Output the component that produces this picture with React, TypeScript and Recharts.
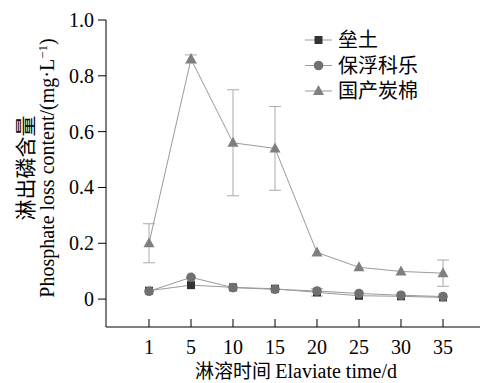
import { LineChart, Line, XAxis, YAxis, ErrorBar, Label } from 'recharts';

const days = ['1', '5', '10', '15', '20', '25', '30', '35'];
const leituValues = [0.03, 0.05, 0.042, 0.037, 0.024, 0.012, 0.01, 0.006];
const leituErrors = [0, 0, 0, 0, 0.013, 0, 0, 0];
const baofuValues = [0.028, 0.078, 0.041, 0.035, 0.029, 0.02, 0.014, 0.009];
const baofuErrors = [0, 0, 0, 0, 0, 0, 0, 0];
const tanmianValues = [0.2, 0.86, 0.56, 0.54, 0.167, 0.114, 0.099, 0.093];
const tanmianErrors = [0.07, 0.015, 0.19, 0.15, 0, 0, 0, 0.047];
const yTicks = [0, 0.2, 0.4, 0.6, 0.8, 1.0];

const seriesNames = ['垒土', '保浮科乐', '国产炭棉'];

const data = days.map((d, i) => ({
  day: d,
  leitu: leituValues[i],
  leituErr: leituErrors[i],
  baofu: baofuValues[i],
  baofuErr: baofuErrors[i],
  tanmian: tanmianValues[i],
  tanmianErr: tanmianErrors[i],
}));

const FONT = 'Liberation Serif';
const CJK = 'Noto Sans CJK SC';
const LINE = '#9a9a9a';

function Marker({ shape, cx, cy }: { shape: string; cx: number; cy: number }) {
  if (shape === 'square') {
    return <rect x={cx - 4} y={cy - 4} width={8} height={8} fill="#333333" />;
  }
  if (shape === 'circle') {
    return <circle cx={cx} cy={cy} r={4.8} fill="#707070" />;
  }
  return <polygon points={`${cx},${cy - 6} ${cx - 5.5},${cy + 4} ${cx + 5.5},${cy + 4}`} fill="#7f7f7f" />;
}

const shapes = ['square', 'circle', 'triangle'];

function dotFor(shape: string) {
  return (props: any) => (
    <Marker key={`${shape}-${props.index}`} shape={shape} cx={props.cx} cy={props.cy} />
  );
}

function XTick(props: any) {
  const { x, y, payload } = props;
  return (
    <g>
      <line x1={x} y1={y - 8} x2={x} y2={y} stroke="#000" strokeWidth={1} />
      <text x={x} y={y + 27} textAnchor="middle" style={{ fontFamily: FONT, fontSize: 20 }} fill="#000">
        {payload.value}
      </text>
    </g>
  );
}

function YTick(props: any) {
  const { x, y, payload } = props;
  const v = payload.value as number;
  return (
    <text x={x} y={y + 7} textAnchor="end" style={{ fontFamily: FONT, fontSize: 20 }} fill="#000">
      {v === 0 ? '0' : v.toFixed(1)}
    </text>
  );
}

function YLabel() {
  return (
    <g>
      <text
        transform="translate(33,168) rotate(-90)"
        textAnchor="middle"
        style={{ fontFamily: CJK, fontSize: 21 }}
        fill="#000"
      >
        淋出磷含量
      </text>
      <text
        transform="translate(54,168) rotate(-90)"
        textAnchor="middle"
        style={{ fontFamily: FONT, fontSize: 20 }}
        fill="#000"
      >
        Phosphate loss content/(mg·L
        <tspan fontSize={13} dy={-7}>−1</tspan>
        <tspan dy={7}>)</tspan>
      </text>
    </g>
  );
}

function XLabel() {
  return (
    <text x={296} y={378} textAnchor="middle" fill="#000">
      <tspan style={{ fontFamily: CJK, fontSize: 19 }}>淋溶时间 </tspan>
      <tspan style={{ fontFamily: FONT, fontSize: 20 }}>Elaviate time/d</tspan>
    </text>
  );
}

function LegendBox() {
  return (
    <svg width={150} height={90} style={{ position: 'absolute', left: 305, top: 20 }}>
      {seriesNames.map((name, i) => {
        const cy = 20 + i * 25.5;
        return (
          <g key={name}>
            <line x1={0} y1={cy} x2={27} y2={cy} stroke={LINE} strokeWidth={1} />
            <Marker shape={shapes[i]} cx={13.5} cy={cy} />
            <text x={33} y={cy + 7} style={{ fontFamily: CJK, fontSize: 20 }} fill="#000">
              {name}
            </text>
          </g>
        );
      })}
    </svg>
  );
}

export default function App() {
  return (
    <div style={{ position: 'absolute', left: 0, top: 0, width: 486, height: 383, background: '#fff' }}>
      <LineChart width={486} height={383} data={data} margin={{ top: 20, right: 6, left: 0, bottom: 0 }}>
        <XAxis
          dataKey="day"
          height={56}
          padding={{ left: 43, right: 37 }}
          tickLine={false}
          tickSize={0}
          tickMargin={0}
          tick={<XTick />}
          stroke="#000"
          interval={0}
        >
          <Label content={<XLabel />} />
        </XAxis>
        <YAxis
          width={106}
          domain={[-0.1, 1.0]}
          ticks={yTicks}
          tickSize={8}
          tickMargin={4}
          tick={<YTick />}
          stroke="#000"
          allowDataOverflow
        >
          <Label content={<YLabel />} />
        </YAxis>
        <Line
          dataKey="leitu"
          name={seriesNames[0]}
          stroke={LINE}
          strokeWidth={1}
          dot={dotFor('square')}
          isAnimationActive={false}
        >
          <ErrorBar dataKey="leituErr" width={6} stroke="#aaaaaa" strokeWidth={1} />
        </Line>
        <Line
          dataKey="baofu"
          name={seriesNames[1]}
          stroke={LINE}
          strokeWidth={1}
          dot={dotFor('circle')}
          isAnimationActive={false}
        >
          <ErrorBar dataKey="baofuErr" width={6} stroke="#aaaaaa" strokeWidth={1} />
        </Line>
        <Line
          dataKey="tanmian"
          name={seriesNames[2]}
          stroke={LINE}
          strokeWidth={1}
          dot={dotFor('triangle')}
          isAnimationActive={false}
        >
          <ErrorBar dataKey="tanmianErr" width={6} stroke="#aaaaaa" strokeWidth={1} />
        </Line>
      </LineChart>
      <LegendBox />
    </div>
  );
}
